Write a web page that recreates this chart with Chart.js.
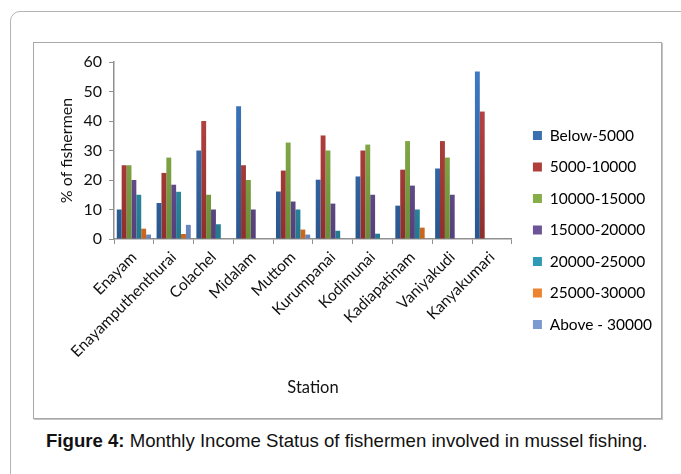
<!DOCTYPE html>
<html>
<head>
<meta charset="utf-8">
<script src="https://cdn.jsdelivr.net/npm/chart.js@4.4.1/dist/chart.umd.min.js"></script>
<style>
  html, body { margin: 0; padding: 0; background: #fff; }
  body { width: 681px; height: 474px; position: relative; overflow: hidden; }
  #frame {
    position: absolute; left: 10px; top: 11px; width: 720px; height: 520px;
    border: 1px solid #b4b4b4; border-radius: 10px; box-sizing: border-box;
  }
  #box {
    position: absolute; left: 33px; top: 42px; width: 629px; height: 377px;
    border: 1px solid #a8a8a8; box-sizing: border-box;
    box-shadow: 1px 1px 0 #c4c4c4;
  }
  #chart { position: absolute; left: 34px; top: 43px; }
  #caption {
    position: absolute; left: 46px; top: 430px; white-space: nowrap;
    font-family: "Liberation Sans", Arial, sans-serif; font-size: 18.6px; color: #111;
  }
  #caption b { font-weight: bold; }
</style>
</head>
<body>
<div id="frame"></div>
<div id="box"></div>
<canvas id="chart" width="627" height="375"></canvas>
<div id="caption"><b>Figure 4:</b> Monthly Income Status of fishermen involved in mussel fishing.</div>
<script>
// Stations along the coast
const stations = ["Enayam", "Enayamputhenthurai", "Colachel", "Midalam", "Muttom",
  "Kurumpanai", "Kodimunai", "Kadiapatinam", "Vaniyakudi", "Kanyakumari"];

// Monthly income classes
const incomeClasses = ["Below-5000", "5000-10000", "10000-15000", "15000-20000",
  "20000-25000", "25000-30000", "Above - 30000"];

// % of fishermen in each income class, one value per station
const below5000   = [10, 12.2, 30, 45, 16.1, 20.1, 21.2, 11.3, 23.9, 56.8];
const inc5to10k   = [25, 22.4, 40, 25, 23.2, 35.1, 30, 23.5, 33.2, 43.2];
const inc10to15k  = [25, 27.6, 15, 20, 32.7, 30, 32, 33.2, 27.6, null];
const inc15to20k  = [20, 18.4, 10, 10, 12.7, 12, 15, 18.1, 15, null];
const inc20to25k  = [15, 16.0, 5, null, 10, 2.8, 1.8, 10, null, null];
const inc25to30k  = [3.5, 1.7, null, null, 3.2, null, null, 3.85, null, null];
const above30000  = [1.5, 4.8, null, null, 1.5, null, null, null, null, null];

const yTicks = [0, 10, 20, 30, 40, 50, 60];

const seriesValues = [below5000, inc5to10k, inc10to15k, inc15to20k, inc20to25k, inc25to30k, above30000];

// top / bottom shades for the gradient fills, plus the legend swatch colour
const palette = [
  ["#3f7cc6", "#2a568c", "#3a6fb0"],
  ["#c24a47", "#8e2f2d", "#b03f3c"],
  ["#93bb52", "#6b8d37", "#87ad49"],
  ["#7a5fa6", "#54407a", "#6d5498"],
  ["#38a9c4", "#23798f", "#2f9ab5"],
  ["#f7923a", "#c8661d", "#ec8330"],
  ["#85a4d6", "#6683bb", "#7c9ad0"]
];

const FONT = "Lato, 'Open Sans', sans-serif";

function gradientFor(i) {
  return function (ctx) {
    const chart = ctx.chart;
    const area = chart.chartArea;
    if (!area) return palette[i][2];
    const g = chart.ctx.createLinearGradient(0, area.top, 0, area.bottom);
    g.addColorStop(0, palette[i][0]);
    g.addColorStop(1, palette[i][1]);
    return g;
  };
}

const datasets = incomeClasses.map((name, i) => ({
  label: name,
  data: seriesValues[i],
  backgroundColor: gradientFor(i),
  borderWidth: 0,
  categoryPercentage: 0.86,
  barPercentage: 1.0
}));

// nudges the legend column a little away from the plot
const legendShift = {
  id: 'legendShift',
  afterLayout(chart) {
    const lg = chart.legend;
    if (lg) { lg.left += 5; lg.right += 5; }
  }
};

new Chart(document.getElementById('chart'), {
  type: 'bar',
  data: { labels: stations, datasets },
  plugins: [legendShift],
  options: {
    responsive: false,
    animation: false,
    layout: { padding: { top: 19, bottom: 20, left: 0, right: 4 } },
    plugins: {
      tooltip: { enabled: false },
      legend: {
        position: 'right',
        labels: {
          boxWidth: 9, boxHeight: 9, padding: 16,
          color: '#111',
          font: { family: FONT, size: 15.5 },
          generateLabels(chart) {
            return incomeClasses.map((name, i) => ({
              text: name, fillStyle: palette[i][2], strokeStyle: palette[i][2],
              lineWidth: 0, hidden: false, datasetIndex: i
            }));
          }
        }
      }
    },
    scales: {
      x: {
        grid: { display: true, drawOnChartArea: false, drawTicks: true, tickLength: 5, color: '#8f8f8f', offset: true },
        border: { color: '#8f8f8f', width: 1.5 },
        ticks: {
          autoSkip: false, maxRotation: 45, minRotation: 45, padding: 4,
          color: '#111', font: { family: FONT, size: 15.5 }
        },
        title: { display: true, text: 'Station', color: '#111', font: { family: FONT, size: 16.5 }, padding: { top: 0, bottom: 0 } },
        afterFit(scale) { scale.height = 159; }
      },
      y: {
        min: 0, max: 60,
        afterBuildTicks(scale) { scale.ticks = yTicks.map(v => ({ value: v })); },
        grid: { display: true, drawOnChartArea: false, drawTicks: true, tickLength: 5, color: '#8f8f8f' },
        border: { color: '#8f8f8f', width: 1.5 },
        ticks: { color: '#111', padding: 7, font: { family: FONT, size: 16 } },
        title: { display: true, text: '% of fishermen', color: '#111', font: { family: FONT, size: 16 }, padding: { top: 23, bottom: 0 } },
        afterFit(scale) { scale.width = 80; }
      }
    }
  }
});
</script>
</body>
</html>
